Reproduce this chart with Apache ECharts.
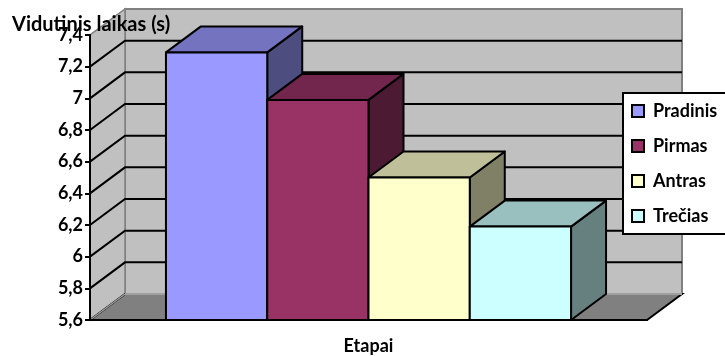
<!DOCTYPE html>
<html>
<head>
<meta charset="utf-8">
<script src="https://cdn.jsdelivr.net/npm/echarts@6/dist/echarts.min.js"></script>
<style>
  html, body { margin: 0; padding: 0; background: #fff; }
  #main { width: 725px; height: 356px; }
</style>
</head>
<body>
<div id="main"></div>
<script>
const categories = ['Etapai'];
const seriesNames = ['Pradinis', 'Pirmas', 'Antras', 'Trečias'];
const seriesValues = [7.29, 6.99, 6.5, 6.19];
const yTicks = [5.6, 5.8, 6, 6.2, 6.4, 6.6, 6.8, 7, 7.2, 7.4];

const frontColors = ['#9999ff', '#993366', '#ffffcc', '#ccffff'];
const topColors = ['#7373bf', '#73264d', '#bfbf99', '#99bfbf'];
const sideColors = ['#4d4d80', '#4d1a33', '#808066', '#668080'];

// pseudo 3D depth (px)
const DX = 35, DY = -26;
const FONT = 'Lato';

let chart = echarts.init(document.getElementById('main'), null, {renderer: 'canvas'});

function renderWalls(params, api) {
  const cs = params.coordSys;
  const x0 = cs.x, x1 = cs.x + cs.width;
  const yb = api.coord([0, yTicks[0]])[1];
  const yt = api.coord([0, yTicks[yTicks.length - 1]])[1];
  const children = [];
  // back wall
  children.push({
    type: 'rect',
    shape: {x: x0 + DX, y: yt + DY, width: cs.width, height: yb - yt},
    style: {fill: '#c0c0c0', stroke: '#808080', lineWidth: 2}
  });
  // side wall
  children.push({
    type: 'polygon',
    shape: {points: [[x0, yb], [x0 + DX, yb + DY], [x0 + DX, yt + DY], [x0, yt]]},
    style: {fill: '#c0c0c0', stroke: '#808080', lineWidth: 1.5}
  });
  // grid lines on side + back wall
  yTicks.slice(1, -1).forEach(v => {
    const y = api.coord([0, v])[1];
    children.push({
      type: 'polyline',
      shape: {points: [[x0, y], [x0 + DX, y + DY], [x1 + DX, y + DY]]},
      style: {stroke: '#000', lineWidth: 2, fill: null}
    });
  });
  // floor
  children.push({
    type: 'polygon',
    shape: {points: [[x0, yb], [x1, yb], [x1 + DX, yb + DY], [x0 + DX, yb + DY]]},
    style: {fill: '#808080', stroke: '#000', lineWidth: 2}
  });
  children.push({
    type: 'line',
    shape: {x1: x0 + DX, y1: yb + DY, x2: x1 + DX, y2: yb + DY},
    style: {stroke: '#a0a0a0', lineWidth: 2}
  });
  children.push({
    type: 'line',
    shape: {x1: x0, y1: yb, x2: x0 + DX, y2: yb + DY},
    style: {stroke: '#a0a0a0', lineWidth: 1.5}
  });
  return {type: 'group', children: children};
}

function renderBar(params, api) {
  const i = api.value(2);
  const bandW = api.size([1, 0])[0];
  const barW = bandW / 5.5;
  const cx = api.coord([api.value(0), yTicks[0]])[0];
  const x = cx - 2 * barW + i * barW;
  const yb = api.coord([0, yTicks[0]])[1];
  const yt = api.coord([0, api.value(1)])[1];
  const line = {stroke: '#000', lineWidth: 2, lineJoin: 'round'};
  return {
    type: 'group',
    children: [
      {
        type: 'polygon',
        shape: {points: [[x + barW, yb], [x + barW + DX, yb + DY], [x + barW + DX, yt + DY], [x + barW, yt]]},
        style: Object.assign({fill: sideColors[i]}, line)
      },
      {
        type: 'polygon',
        shape: {points: [[x, yt], [x + DX, yt + DY], [x + barW + DX, yt + DY], [x + barW, yt]]},
        style: Object.assign({fill: topColors[i]}, line)
      },
      {
        type: 'rect',
        shape: {x: x, y: yt, width: barW, height: yb - yt},
        style: Object.assign({fill: frontColors[i]}, line)
      }
    ]
  };
}

const series = [{
  name: 'walls',
  type: 'custom',
  renderItem: renderWalls,
  clip: false,
  silent: true,
  z: 1,
  data: [[0, yTicks[0]]]
}];
seriesNames.forEach((name, i) => {
  series.push({
    name: name,
    type: 'custom',
    renderItem: renderBar,
    clip: false,
    z: 2 + i,
    itemStyle: {color: frontColors[i]},
    encode: {x: 0, y: 1},
    data: [[0, seriesValues[i], i]]
  });
});

const option = {
  animation: false,
  textStyle: {fontFamily: FONT},
  // y axis title, sits over the 7,4 label like in the original
  title: {
    text: 'Vidutinis laikas (s)',
    left: 12,
    top: 15,
    padding: 0,
    z: 20,
    textStyle: {fontFamily: FONT, fontWeight: 'bold', fontSize: 20, color: '#000'}
  },
  grid: {left: 90, right: 78, top: 35, bottom: 36, containLabel: false, outerBoundsMode: 'none'},
  legend: {
    data: seriesNames,
    orient: 'vertical',
    left: 623,
    top: 93,
    padding: [9, 40, 9, 8],
    itemGap: 17,
    itemWidth: 12,
    itemHeight: 12,
    icon: 'rect',
    backgroundColor: '#fff',
    borderColor: '#000',
    borderWidth: 2,
    itemStyle: {borderColor: '#000', borderWidth: 2},
    textStyle: {fontFamily: FONT, fontWeight: 'bold', fontSize: 18, lineHeight: 18, color: '#000', padding: [0, 0, 0, 4]}
  },
  xAxis: {
    type: 'category',
    data: categories,
    name: 'Etapai',
    nameLocation: 'middle',
    nameGap: 17,
    nameTextStyle: {fontFamily: FONT, fontWeight: 'bold', fontSize: 18, color: '#000'},
    axisLine: {lineStyle: {color: '#000', width: 2}},
    axisTick: {length: 5, lineStyle: {color: '#000', width: 2}},
    axisLabel: {show: false},
    z: 10
  },
  yAxis: {
    type: 'value',
    min: 5.6,
    max: 7.4,
    interval: 0.2,
    axisLine: {show: true, lineStyle: {color: '#000', width: 2}},
    axisTick: {show: true, length: 5, lineStyle: {color: '#000', width: 2}},
    axisLabel: {
      fontFamily: FONT, fontWeight: 'bold', fontSize: 18, color: '#000', margin: 7,
      formatter: v => String(+v.toFixed(1)).replace('.', ',')
    },
    splitLine: {show: false},
    z: 10
  },
  series: series
};

chart.setOption(option);
window.addEventListener('resize', chart.resize);
</script>
</body>
</html>
